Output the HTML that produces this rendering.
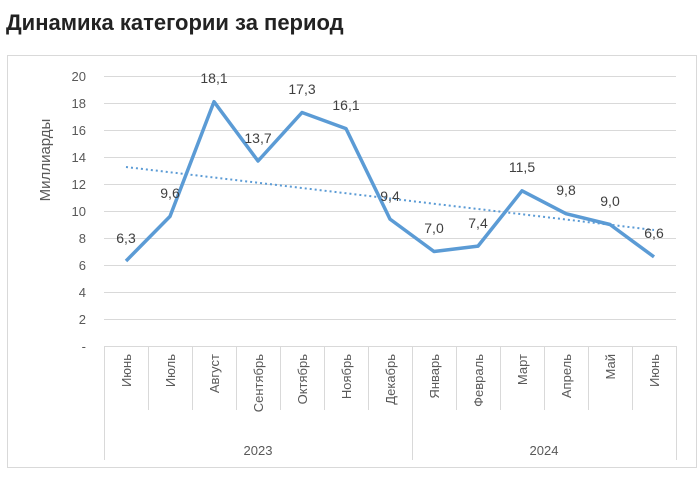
<!DOCTYPE html>
<html><head><meta charset="utf-8"><style>
body{margin:0;background:#fff;width:700px;height:472px;overflow:hidden;font-family:"Liberation Sans",sans-serif}
</style></head><body>
<svg width="700" height="472" xmlns="http://www.w3.org/2000/svg" font-family="Liberation Sans, sans-serif">
<text x="6" y="30" font-size="22" font-weight="bold" fill="#222">Динамика категории за период</text>
<rect x="7.5" y="55.5" width="689" height="412" fill="#fff" stroke="#d9d9d9"/>
<g stroke="#d9d9d9" stroke-width="1">
<line x1="104" x2="676" y1="76.5" y2="76.5"/><line x1="104" x2="676" y1="103.5" y2="103.5"/>
<line x1="104" x2="676" y1="130.5" y2="130.5"/><line x1="104" x2="676" y1="157.5" y2="157.5"/>
<line x1="104" x2="676" y1="184.5" y2="184.5"/><line x1="104" x2="676" y1="211.5" y2="211.5"/>
<line x1="104" x2="676" y1="238.5" y2="238.5"/><line x1="104" x2="676" y1="265.5" y2="265.5"/>
<line x1="104" x2="676" y1="292.5" y2="292.5"/><line x1="104" x2="676" y1="319.5" y2="319.5"/>
<line x1="104" x2="676" y1="346.5" y2="346.5"/>
<line x1="104.5" x2="104.5" y1="346" y2="460"/><line x1="412.5" x2="412.5" y1="346" y2="460"/><line x1="676.5" x2="676.5" y1="346" y2="460"/>
<line x1="148.5" x2="148.5" y1="346" y2="410"/><line x1="192.5" x2="192.5" y1="346" y2="410"/><line x1="236.5" x2="236.5" y1="346" y2="410"/>
<line x1="280.5" x2="280.5" y1="346" y2="410"/><line x1="324.5" x2="324.5" y1="346" y2="410"/><line x1="368.5" x2="368.5" y1="346" y2="410"/>
<line x1="456.5" x2="456.5" y1="346" y2="410"/><line x1="500.5" x2="500.5" y1="346" y2="410"/><line x1="544.5" x2="544.5" y1="346" y2="410"/>
<line x1="588.5" x2="588.5" y1="346" y2="410"/><line x1="632.5" x2="632.5" y1="346" y2="410"/>
</g>
<g font-size="13" fill="#595959" text-anchor="end">
<text x="86" y="81">20</text><text x="86" y="108">18</text><text x="86" y="135">16</text><text x="86" y="162">14</text>
<text x="86" y="189">12</text><text x="86" y="216">10</text><text x="86" y="243">8</text><text x="86" y="270">6</text>
<text x="86" y="297">4</text><text x="86" y="324">2</text><text x="86" y="351">-</text>
</g>
<text transform="translate(50,160) rotate(-90)" font-size="15" fill="#595959" text-anchor="middle">Миллиарды</text>
<g font-size="13" fill="#595959" text-anchor="end">
<text transform="translate(131,354) rotate(-90)">Июнь</text>
<text transform="translate(175,354) rotate(-90)">Июль</text>
<text transform="translate(219,354) rotate(-90)">Август</text>
<text transform="translate(263,354) rotate(-90)">Сентябрь</text>
<text transform="translate(307,354) rotate(-90)">Октябрь</text>
<text transform="translate(351,354) rotate(-90)">Ноябрь</text>
<text transform="translate(395,354) rotate(-90)">Декабрь</text>
<text transform="translate(439,354) rotate(-90)">Январь</text>
<text transform="translate(483,354) rotate(-90)">Февраль</text>
<text transform="translate(527,354) rotate(-90)">Март</text>
<text transform="translate(571,354) rotate(-90)">Апрель</text>
<text transform="translate(615,354) rotate(-90)">Май</text>
<text transform="translate(659,354) rotate(-90)">Июнь</text>
</g>
<g font-size="13" fill="#595959" text-anchor="middle">
<text x="258" y="455">2023</text><text x="544" y="455">2024</text>
</g>
<line x1="126" y1="167" x2="654" y2="230" stroke="#5b9bd5" stroke-width="2" stroke-dasharray="2,3"/>
<polyline fill="none" stroke="#5b9bd5" stroke-width="3.5" stroke-linejoin="round" points="126,261 170,216.4 214,101.7 258,161 302,112.5 346,128.6 390,219.1 434,251.5 478,246.1 522,190.8 566,213.7 610,224.5 654,256.9"/>
<g font-size="14" fill="#404040" text-anchor="middle">
<text x="126" y="243">6,3</text><text x="170" y="198">9,6</text><text x="214" y="83">18,1</text>
<text x="258" y="143">13,7</text><text x="302" y="94">17,3</text><text x="346" y="110">16,1</text>
<text x="390" y="201">9,4</text><text x="434" y="233">7,0</text><text x="478" y="228">7,4</text>
<text x="522" y="172">11,5</text><text x="566" y="195">9,8</text><text x="610" y="206">9,0</text><text x="654" y="238">6,6</text>
</g>
</svg>
</body></html>
